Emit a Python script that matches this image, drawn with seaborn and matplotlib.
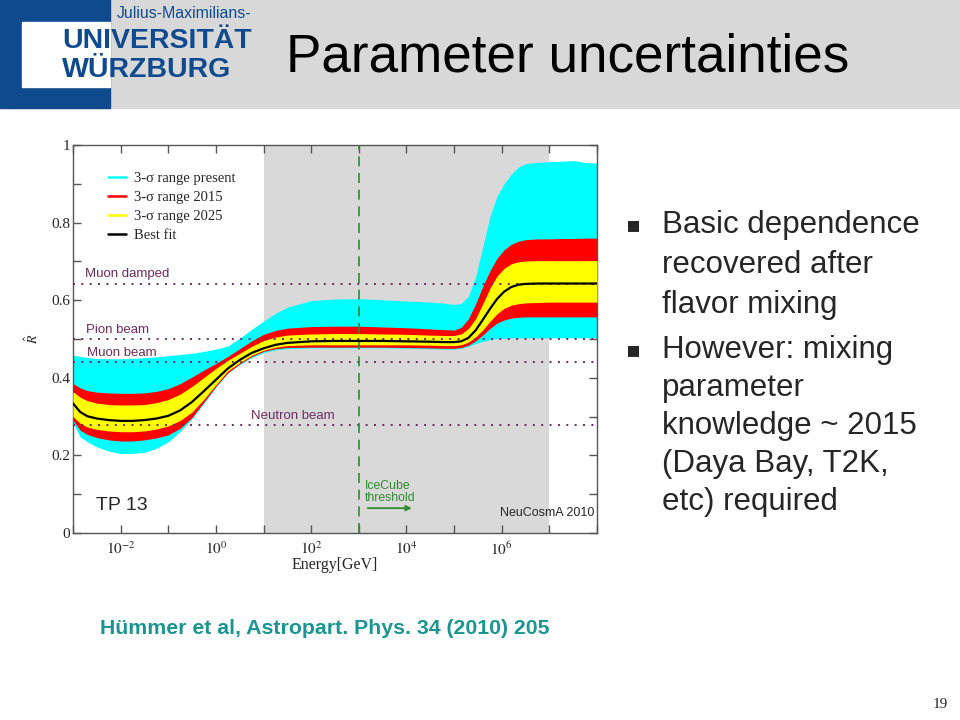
import numpy as np
import matplotlib.pyplot as plt
import seaborn as sns
from matplotlib.lines import Line2D
from matplotlib.patches import Rectangle

# log10(Energy / GeV) sample points
log_energy = [-3, -2.85, -2.7, -2.5, -2.25, -2, -1.75, -1.5, -1.25, -1, -0.75, -0.5, -0.25,
              0, 0.25, 0.5, 0.75, 1, 1.25, 1.5, 2, 2.5, 3, 3.5, 4, 4.5, 4.8, 5, 5.15, 5.3,
              5.45, 5.6, 5.75, 5.9, 6.05, 6.2, 6.35, 6.5, 6.75, 7, 7.25, 7.5, 7.75, 8]

best_fit = [0.334, 0.312, 0.301, 0.295, 0.291, 0.289, 0.289, 0.291, 0.295, 0.302, 0.316,
            0.338, 0.366, 0.395, 0.424, 0.446, 0.464, 0.476, 0.485, 0.490, 0.494, 0.495,
            0.495, 0.495, 0.494, 0.493, 0.492, 0.492, 0.494, 0.503, 0.522, 0.549, 0.577,
            0.603, 0.622, 0.634, 0.640, 0.642, 0.643, 0.643, 0.643, 0.643, 0.643, 0.643]

cyan_top = [0.458, 0.455, 0.452, 0.450, 0.449, 0.449, 0.450, 0.452, 0.454, 0.457, 0.460,
            0.463, 0.468, 0.474, 0.482, 0.502, 0.525, 0.546, 0.566, 0.582, 0.599, 0.603,
            0.604, 0.601, 0.598, 0.595, 0.592, 0.589, 0.592, 0.610, 0.660, 0.736, 0.815,
            0.868, 0.900, 0.925, 0.943, 0.952, 0.955, 0.957, 0.958, 0.960, 0.955, 0.953]
cyan_bot = [0.283, 0.248, 0.235, 0.222, 0.211, 0.205, 0.205, 0.208, 0.218, 0.235, 0.262,
            0.295, 0.335, 0.376, 0.412, 0.434, 0.452, 0.465, 0.472, 0.475, 0.477, 0.477,
            0.477, 0.477, 0.476, 0.475, 0.474, 0.474, 0.476, 0.481, 0.488, 0.494, 0.498,
            0.501, 0.502, 0.503, 0.503, 0.503, 0.503, 0.503, 0.503, 0.503, 0.503, 0.503]

red_top = [0.385, 0.374, 0.367, 0.363, 0.361, 0.360, 0.360, 0.361, 0.365, 0.372, 0.385,
           0.402, 0.420, 0.437, 0.455, 0.475, 0.495, 0.512, 0.522, 0.528, 0.532, 0.533,
           0.533, 0.531, 0.529, 0.526, 0.524, 0.523, 0.530, 0.552, 0.590, 0.635, 0.675,
           0.708, 0.730, 0.744, 0.752, 0.756, 0.758, 0.758, 0.759, 0.759, 0.760, 0.760]
red_bot = [0.291, 0.265, 0.254, 0.246, 0.240, 0.237, 0.237, 0.240, 0.245, 0.253, 0.270,
           0.298, 0.338, 0.378, 0.413, 0.436, 0.455, 0.468, 0.475, 0.478, 0.479, 0.479,
           0.479, 0.479, 0.478, 0.477, 0.476, 0.476, 0.478, 0.484, 0.495, 0.510, 0.527,
           0.541, 0.549, 0.554, 0.556, 0.557, 0.557, 0.557, 0.557, 0.557, 0.557, 0.557]

yellow_top = [0.364, 0.350, 0.341, 0.335, 0.331, 0.330, 0.330, 0.331, 0.336, 0.344, 0.358,
              0.378, 0.401, 0.424, 0.445, 0.463, 0.481, 0.496, 0.505, 0.510, 0.513, 0.514,
              0.514, 0.513, 0.512, 0.510, 0.509, 0.509, 0.513, 0.527, 0.552, 0.590, 0.630,
              0.662, 0.682, 0.694, 0.699, 0.701, 0.702, 0.702, 0.702, 0.702, 0.702, 0.702]
yellow_bot = [0.300, 0.283, 0.273, 0.267, 0.263, 0.261, 0.261, 0.263, 0.268, 0.276, 0.290,
              0.312, 0.345, 0.382, 0.418, 0.439, 0.458, 0.471, 0.479, 0.483, 0.485, 0.485,
              0.485, 0.485, 0.485, 0.484, 0.483, 0.483, 0.485, 0.492, 0.505, 0.523, 0.545,
              0.565, 0.579, 0.587, 0.591, 0.593, 0.594, 0.595, 0.595, 0.595, 0.595, 0.595]

ref_names = ["Muon damped", "Pion beam", "Muon beam", "Neutron beam"]
ref_values = [0.643, 0.500, 0.441, 0.278]
ref_label_x = [1.8e-3, 1.9e-3, 2.0e-3, 5.4]

legend_labels = ["3-σ range present", "3-σ range 2015", "3-σ range 2025", "Best fit"]
legend_colors = ["#00ffff", "#ff0000", "#ffff00", "#000000"]

bullets = [["Basic dependence", "recovered after", "flavor mixing"],
           ["However: mixing", "parameter", "knowledge ~ 2015", "(Daya Bay, T2K,", "etc) required"]]

energy = 10.0 ** np.array(log_energy)

sns.set_theme(style="ticks")
plt.rcParams["font.family"] = ["Liberation Sans", "DejaVu Sans"]
plt.rcParams["mathtext.fontset"] = "stix"

fig = plt.figure(figsize=(9.6, 7.2), dpi=100)
fig.patch.set_facecolor("white")

# header band with logo
blue = "#104a8e"
fig.add_artist(Rectangle((0, 0.85), 1, 0.15, transform=fig.transFigure, color="#d8d8d8", zorder=0))
fig.add_artist(Rectangle((0, 0.85), 110 / 960, 0.15, transform=fig.transFigure, color=blue, zorder=1))
fig.add_artist(Rectangle((22 / 960, 1 - 87 / 720), 88 / 960, 65 / 720, transform=fig.transFigure,
                         color="white", zorder=2))
fig.text(117 / 960, 1 - 13 / 720, "Julius-Maximilians-", fontsize=11.4, color=blue,
         va="center", ha="left", zorder=3)
fig.text(62 / 960, 1 - 41 / 720, "UNIVERSITÄT", fontsize=20.5, fontweight="bold",
         color=blue, va="center", ha="left", zorder=3)
fig.text(62 / 960, 1 - 70 / 720, "WÜRZBURG", fontsize=20.5, fontweight="bold",
         color=blue, va="center", ha="left", zorder=3)
fig.text(286 / 960, 1 - 57 / 720, "Parameter uncertainties", fontsize=38.2, color="black",
         va="center", ha="left")

# bullets
y_px = [225, 265, 305, 350, 388, 426, 464, 502]
k = 0
for lines in bullets:
    fig.text(634 / 960, 1 - y_px[k] / 720, "▪", family=["DejaVu Sans"], fontsize=16,
             va="center", ha="center")
    for line in lines:
        fig.text(662 / 960, 1 - y_px[k] / 720, line, fontsize=22.5, va="center", ha="left")
        k += 1

fig.text(100 / 960, 1 - 628 / 720, "Hümmer et al, Astropart. Phys. 34 (2010) 205", fontsize=15.3,
         fontweight="bold", color="#1a9590", va="center", ha="left")
fig.text(940 / 960, 1 - 705 / 720, "19", family=["Liberation Serif"], fontsize=11,
         va="center", ha="center")

# main plot
ax = fig.add_axes([73 / 960, 1 - 533 / 720, 524 / 960, 388 / 720])
ax.set_xscale("log")
ax.axvspan(1e1, 1e7, color="#d9d9d9", lw=0, zorder=0)
ax.fill_between(energy, cyan_bot, cyan_top, color=legend_colors[0], lw=0, zorder=1)
ax.fill_between(energy, red_bot, red_top, color=legend_colors[1], lw=0, zorder=2)
ax.fill_between(energy, yellow_bot, yellow_top, color=legend_colors[2], lw=0, zorder=3)
sns.lineplot(x=energy, y=best_fit, color="black", lw=1.6, ax=ax, zorder=5)

ref_color = "#6e2b5f"
for name, val, lx in zip(ref_names, ref_values, ref_label_x):
    ax.axhline(val, color=ref_color, lw=1.4, linestyle=(0, (1, 3.3)), zorder=4)
    ax.text(lx, val + 0.008, name, color=ref_color, fontsize=9.5, va="bottom", ha="left", zorder=6)

ax.axvline(1e3, color="#2e8b2e", lw=1.2, linestyle=(0, (6, 4)), zorder=4)
ax.text(10 ** 3.13, 0.105, "IceCube\nthreshold", color="#2e8b2e", fontsize=8.8,
        va="center", ha="left", linespacing=0.95)
ax.annotate("", xy=(10 ** 4.17, 0.064), xytext=(10 ** 3.13, 0.064),
            arrowprops=dict(arrowstyle="-|>", color="#2e8b2e", lw=1.3, mutation_scale=8))
ax.text(10 ** -2.52, 0.07, "TP 13", fontsize=14, va="center", ha="left")
ax.text(10 ** 7.95, 0.052, "NeuCosmA 2010", fontsize=9, va="center", ha="right")

ax.set_xlim(1e-3, 1e8)
ax.set_ylim(0, 1)
powers = list(range(-3, 9))
ax.set_xticks([10.0 ** p for p in powers])
ax.set_xticklabels([f"$10^{{{p}}}$" if p % 2 == 0 and p < 8 else "" for p in powers],
                   family=["Liberation Serif"], fontsize=11)
ax.xaxis.set_minor_locator(plt.NullLocator())
ax.set_yticks([i / 10 for i in range(11)])
ax.set_yticklabels(["0", "", "0.2", "", "0.4", "", "0.6", "", "0.8", "", "1"],
                   family=["Liberation Serif"], fontsize=11)
ax.tick_params(direction="in", top=True, right=True, length=6, width=1, color="#555555")
ax.tick_params(axis="y", pad=2)
ax.tick_params(axis="x", pad=5)
for s in ax.spines.values():
    s.set_color("#555555")
    s.set_linewidth(1)

ax.set_xlabel("Energy[GeV]", family=["Liberation Serif"], fontsize=11.5)
ax.xaxis.set_label_coords(0.5, -0.062)
ax.set_ylabel(r"$\hat{R}$", fontsize=10)
ax.yaxis.set_label_coords(-0.062, 0.5)

handles = [Line2D([0], [0], color=c, lw=1.8) for c in legend_colors]
ax.legend(handles, legend_labels, loc="upper left", bbox_to_anchor=(0.055, 0.945), frameon=False,
          prop={"family": "Liberation Serif", "size": 10.5}, handlelength=1.25,
          handletextpad=0.55, labelspacing=0.38, borderaxespad=0)

fig.savefig("out.png", dpi=100)
